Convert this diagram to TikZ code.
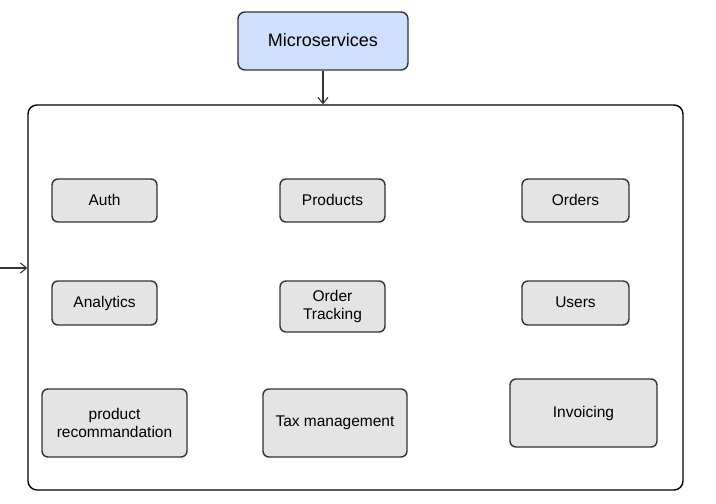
\documentclass[tikz,border=0pt]{standalone}
\usepackage{fontspec}
\setmainfont{Liberation Sans}
\usetikzlibrary{positioning, arrows.meta}

\definecolor{lineGray}{HTML}{333333}
\definecolor{boxGray}{HTML}{E4E4E4}
\definecolor{boxBlue}{HTML}{CFE0FC}

\begin{document}
\begin{tikzpicture}[
			x=1pt, y=-1pt,
			svc/.style={draw=lineGray, line width=1.4pt, rounded corners=6pt, fill=boxGray, align=center, font=\fontsize{15.5}{18}\selectfont, inner sep=0pt},
			top/.style={draw=lineGray, line width=1.4pt, rounded corners=7pt, fill=boxBlue, font=\fontsize{18}{21}\selectfont, minimum width=170pt, minimum height=58pt},
			frame/.style={draw=black, line width=1.4pt, rounded corners=9pt, minimum width=655pt, minimum height=385pt},
			conn/.style={draw=lineGray, line width=1.1pt, -{Straight Barb[length=6pt, width=10pt]}},
			]
			\useasboundingbox (0,0) rectangle (716,504);
			
			%% ── Top box and container ─────────────────────────────────────────────
			\node[top] (micro) at (323,41) {\raisebox{3pt}{Microservices}};
			\node[frame] (ms) at (355.5,297.5) {};
			\coordinate (src) at (0,268);
			
			%% ── Services ───────────────────────────────────────────────────────────
			\node[svc, minimum width=105pt, minimum height=43pt] (auth) at (104.5,200.5) {\raisebox{2pt}{Auth}};
			\node[svc, minimum width=105pt, minimum height=43pt] (products) at (332.5,200.5) {\raisebox{2pt}{Products}};
			\node[svc, minimum width=107pt, minimum height=43pt] (orders) at (575.5,200.5) {\raisebox{2pt}{Orders}};
			\node[svc, minimum width=105pt, minimum height=44pt] (analytics) at (104.5,303) {\raisebox{2pt}{Analytics}};
			\node[svc, minimum width=105pt, minimum height=51pt] (tracking) at (332.5,306.5) {Order\\Tracking};
			\node[svc, minimum width=107pt, minimum height=44pt] (users) at (575.5,303) {\raisebox{2pt}{Users}};
			\node[svc, minimum width=145pt, minimum height=68pt] (reco) at (114.5,423) {product\\recommandation};
			\node[svc, minimum width=144pt, minimum height=68pt] (tax) at (335,423) {\raisebox{2pt}{Tax management}};
			\node[svc, minimum width=147pt, minimum height=68pt] (invoice) at (583.5,413) {\raisebox{3pt}{Invoicing}};
			
			\draw[conn] (micro.south) -- (micro.south |- ms.north);
			\draw[conn] (src) -- (src -| ms.west);
			
		\end{tikzpicture}
\end{document}
